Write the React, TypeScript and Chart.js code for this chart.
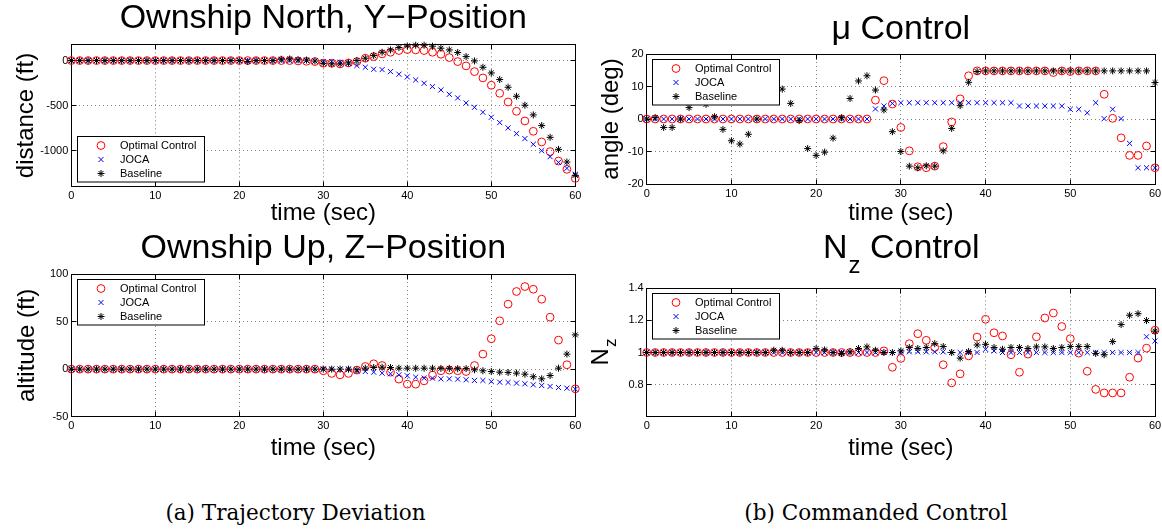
import React, { useEffect, useRef } from 'react';
import { Chart, registerables } from 'chart.js';
Chart.register(...registerables);

const FONT = '"Liberation Sans", Arial, Helvetica, sans-serif';

const TIME = [0, 1, 2, 3, 4, 5, 6, 7, 8, 9, 10, 11, 12, 13, 14, 15, 16, 17, 18, 19, 20, 21, 22, 23, 24, 25, 26, 27, 28, 29, 30, 31, 32, 33, 34, 35, 36, 37, 38, 39, 40, 41, 42, 43, 44, 45, 46, 47, 48, 49, 50, 51, 52, 53, 54, 55, 56, 57, 58, 59, 60];
const X_TICKS = [0, 10, 20, 30, 40, 50, 60];
const SERIES_LABELS = ['Optimal Control', 'JOCA', 'Baseline'];

// Ownship North, Y-Position (ft)
const NORTH_OPTIMAL = [
  0, 0, 0, 0, 0, 0, 0, 0, 0, 0,
  0, 0, 0, 0, 0, 0, 0, 0, 0, 0,
  0, 0, 0, 0, 0, 0, 0, -4, -8, -11,
  -30, -30, -37, -26, -11, 26, 44, 74, 92, 111,
  122, 118, 111, 92, 70, 33, -11, -59, -122, -192,
  -273, -362, -458, -561, -668, -782, -900, -1007, -1111, -1203,
  -1303];
const NORTH_JOCA = [
  0, 0, 0, 0, 0, 0, 0, 0, 0, 0,
  0, 0, 0, 0, 0, 0, 0, 0, 0, 0,
  0, 0, 0, 0, 0, 0, 0, 0, 0, -5,
  -11, -11, -18, -30, -55, -74, -96, -100, -122, -151,
  -181, -214, -251, -288, -325, -373, -413, -469, -517, -572,
  -627, -686, -745, -808, -863, -926, -996, -1063, -1126, -1192,
  -1258];
const NORTH_BASELINE = [
  0, 0, 0, 0, 0, 0, 0, 0, 0, 0,
  0, 0, 0, 0, 0, 0, 0, 0, 0, 0,
  0, -10, 0, 0, 0, 15, 18, 8, 5, -5,
  -30, -37, -37, -26, 0, 26, 55, 92, 118, 144,
  162, 170, 170, 159, 137, 118, 89, 44, -4, -74,
  -137, -210, -295, -395, -494, -601, -719, -849, -982, -1122,
  -1269];
const NORTH_Y_TICKS = [-1000, -500, 0];

// mu Control (deg)
const MU_OPTIMAL = [
  0, 0, 0, 0, 0, 0, 0, 0, 0, 0,
  0, 0, 0, 0, 0, 0, 0, 0, 0, 0,
  0, 0, 0, 0, 0, 0, 0, 5.8, 11.8, 4.6,
  -2.6, -9.8, -14.7, -15, -14.5, -8.5, -0.9, 6.2, 13.3, 14.8,
  14.8, 14.8, 14.8, 14.8, 14.8, 14.8, 14.8, 14.8, 14.3, 14.8,
  14.6, 14.8, 14.8, 14.8, 7.6, 0.2, -5.8, -11.2, -11.2, -8.3,
  -15];
const MU_JOCA = [
  0, 0, 0, 0, 0, 0, 0, 0, 0, 0,
  0, 0, 0, 0, 0, 0, 0, 0, 0, 0,
  0, 0, 0, 0, 0, 0, 0, 3.1, 4.0, 4.8,
  5, 5, 5, 5, 5, 5, 5, 5, 5, 5,
  5, 5, 5, 5, 4, 4, 4, 4, 4, 4,
  3, 3, 1.9, 5, 0.1, 3, 0.1, -7.5, -15, -15,
  -15];
const MU_BASELINE = [
  0, 0.4, -2.6, -2.6, 0, 3.5, 7, 4.5, 0.7, -3.2,
  -6.7, -7.7, -4.7, 0, 6, 11, 9.2, 4.8, -0.5, -9.1,
  -11.2, -10.2, -5.9, 0.4, 6.3, 11.7, 13.3, 8.9, 2.8, -3.9,
  -10, -14.5, -15, -14.4, -14.5, -9.8, -2.9, 4.1, 11.3, 14.6,
  14.8, 14.8, 14.8, 14.8, 14.8, 14.8, 14.8, 14.8, 14.8, 14.8,
  14.8, 14.8, 14.8, 14.8, 14.8, 14.8, 14.8, 14.8, 14.8, 14.8,
  11.2];
const MU_Y_TICKS = [-20, -10, 0, 10, 20];

// Ownship Up, Z-Position (ft)
const UP_OPTIMAL = [
  0, 0, 0, 0, 0, 0, 0, 0, 0, 0,
  0, 0, 0, 0, 0, 0, 0, 0, 0, 0,
  0, 0, 0, 0, 0, 0, 0, 0, 0, 0,
  -1.7, -4.5, -6, -4.5, -1, 2.8, 5.6, 3.8, -3.2, -10.5,
  -15.8, -15.8, -12.3, -6.3, -1.7, -1, -1.7, -2.5, 3.8, 15.8,
  31.9, 50.8, 68.3, 81.6, 86.8, 84, 73.5, 54.6, 30.5, 4.6,
  -20.7];
const UP_JOCA = [
  0, 0, 0, 0, 0, 0, 0, 0, 0, 0,
  0, 0, 0, 0, 0, 0, 0, 0, 0, 0,
  0, 0, 0, 0, 0, 0, 0, 0, 0, 0,
  0, 0, 0, 0, -1.7, -2.5, -3.2, -4.2, -4.9, -6,
  -7, -8.4, -9.5, -9.5, -10.2, -10.2, -10.5, -11.2, -11.9, -11.9,
  -13, -13.7, -14, -14.7, -15.4, -16.5, -17.2, -18.2, -19.3, -20,
  -21];
const UP_BASELINE = [
  0, 0, 0, 0, 0, 0, 0, 0, 0, 0,
  0, 0, 0, 0, 0, 0, 0, 0, 0, 0,
  0, 0, 0, 0, 0, 0, 0, 0, 0, 0,
  0, 0, 0, 0, -0.7, 1, 1.7, 2, 1.7, 1,
  1, 1, 1, 1, 0.8, 0.8, 0.5, 0.5, -0.7, -1.7,
  -2.5, -3.2, -3.5, -4.2, -5.3, -8, -10.2, -6.7, 1, 15.8,
  36];
const UP_Y_TICKS = [-50, 0, 50, 100];

// Nz Control
const NZ_OPTIMAL = [
  1, 1, 1, 1, 1, 1, 1, 1, 1, 1,
  1, 1, 1, 1, 1, 1, 1, 1, 1, 1,
  1, 1, 1, 1, 1, 1, 1, 1, 1.01, 0.908,
  0.963, 1.055, 1.117, 1.076, 1.031, 0.924, 0.811, 0.867, 0.979, 1.096,
  1.207, 1.123, 1.103, 0.986, 0.877, 0.99, 1.098, 1.215, 1.246, 1.162,
  1.086, 0.996, 0.883, 0.77, 0.748, 0.748, 0.748, 0.846, 0.965, 1.027,
  1.139];
const NZ_JOCA = [
  1, 1, 1, 1, 1, 1, 1, 1, 1, 1,
  1, 1, 1, 1, 1, 1, 1, 1, 1, 1,
  1, 1, 1, 1, 1, 1, 1, 1, 1, 1,
  1, 1.004, 1.004, 1.004, 1.004, 1.004, 1, 1, 1, 1,
  1.02, 1.01, 1, 1, 1, 1, 1, 1, 1, 1,
  1, 1, 1, 1, 1, 1, 1, 1, 1, 1.098,
  1.072];
const NZ_BASELINE = [
  1, 1, 1, 1, 1, 1, 1, 1, 1, 1,
  1, 1, 1, 1, 1, 1.014, 1.014, 1, 1, 1,
  1.025, 1.016, 1, 0.994, 1.004, 1.025, 1.035, 1.014, 1, 1,
  1.01, 1.031, 1.025, 1.031, 1.055, 1.037, 1, 0.965, 1.006, 1.047,
  1.051, 1.031, 1.02, 1.031, 1.031, 1.025, 1.035, 1.035, 1.025, 1.031,
  1.037, 1.037, 1.037, 0.994, 0.986, 1.068, 1.174, 1.232, 1.242, 1.199,
  1.133];
const NZ_Y_TICKS = [0.8, 1, 1.2, 1.4];

const COLORS = ['#ff0000', '#0000ff', '#000000'];
const STYLES = ['circle', 'crossRot', 'star'];
const RADII = [3.9, 3.6, 3.5];

const al = (p: number) => Math.round(p - 0.5) + 0.5;

function drawMarker(ctx: CanvasRenderingContext2D, style: string, x: number, y: number, r: number, color: string) {
  ctx.save();
  ctx.strokeStyle = color;
  ctx.lineWidth = 1;
  ctx.beginPath();
  if (style === 'circle') {
    ctx.arc(x, y, r, 0, Math.PI * 2);
  } else {
    const d = r * Math.SQRT1_2;
    ctx.moveTo(x - d, y - d); ctx.lineTo(x + d, y + d);
    ctx.moveTo(x - d, y + d); ctx.lineTo(x + d, y - d);
    if (style === 'star') {
      ctx.moveTo(x - r, y); ctx.lineTo(x + r, y);
      ctx.moveTo(x, y - r); ctx.lineTo(x, y + r);
    }
  }
  ctx.stroke();
  ctx.restore();
}

const matlabPlugin = {
  id: 'matlabAxes',
  beforeDatasetsDraw(chart: any) {
    const { ctx, chartArea: a, scales } = chart;
    const L = al(a.left), R = al(a.right), T = al(a.top), B = al(a.bottom);
    ctx.save();
    ctx.strokeStyle = '#000';
    ctx.lineWidth = 1;
    ctx.strokeRect(L, T, R - L, B - T);
    ctx.beginPath();
    const tl = 5;
    scales.x.ticks.forEach((t: any) => {
      const px = al(scales.x.getPixelForValue(t.value));
      ctx.moveTo(px, B); ctx.lineTo(px, B - tl);
      ctx.moveTo(px, T); ctx.lineTo(px, T + tl);
    });
    scales.y.ticks.forEach((t: any) => {
      const py = al(scales.y.getPixelForValue(t.value));
      ctx.moveTo(L, py); ctx.lineTo(L + tl, py);
      ctx.moveTo(R, py); ctx.lineTo(R - tl, py);
    });
    ctx.stroke();
    ctx.restore();
  },
  afterDraw(chart: any, _args: any, opts: any) {
    const { ctx, chartArea: a } = chart;
    // legend
    const w = 127, h = 45.5;
    const x0 = al(a.left + 6);
    const y0 = opts.legendPos === 'bottom' ? al(a.bottom - 5 - h) : al(a.top + 5);
    ctx.save();
    ctx.fillStyle = '#fff';
    ctx.fillRect(x0, y0, w, h);
    ctx.strokeStyle = '#000';
    ctx.lineWidth = 1;
    ctx.strokeRect(x0, y0, w, h);
    const rows = [9, 23, 37];
    chart.data.datasets.forEach((ds: any, i: number) => {
      const cy = y0 + rows[i];
      drawMarker(ctx, STYLES[i], x0 + 23.5, cy, RADII[i], COLORS[i]);
      ctx.fillStyle = '#000';
      ctx.font = `11px ${FONT}`;
      ctx.textBaseline = 'middle';
      ctx.textAlign = 'left';
      ctx.fillText(ds.label, x0 + 42.5, cy);
    });
    // subscripted title
    if (opts.subTitle) {
      const st = opts.subTitle;
      ctx.fillStyle = '#000';
      ctx.textBaseline = 'alphabetic';
      ctx.textAlign = 'left';
      ctx.font = `34px ${FONT}`;
      const w1 = ctx.measureText(st.main).width;
      const w3 = ctx.measureText(st.rest).width;
      ctx.font = `24px ${FONT}`;
      const w2 = ctx.measureText(st.sub).width;
      const x = (a.left + a.right) / 2 - (w1 + w2 + w3) / 2;
      ctx.font = `34px ${FONT}`;
      ctx.fillText(st.main, x, st.baseline);
      ctx.font = `24px ${FONT}`;
      ctx.fillText(st.sub, x + w1 + 1, st.baseline + 15);
      ctx.font = `34px ${FONT}`;
      ctx.fillText(st.rest, x + w1 + w2 + 1, st.baseline);
    }
    if (opts.subYLabel) {
      const yl = opts.subYLabel;
      ctx.save();
      ctx.translate(yl.baseline, (a.top + a.bottom) / 2);
      ctx.rotate(-Math.PI / 2);
      ctx.fillStyle = '#000';
      ctx.textBaseline = 'alphabetic';
      ctx.textAlign = 'left';
      ctx.font = `24px ${FONT}`;
      const w1 = ctx.measureText(yl.main).width;
      ctx.font = `17px ${FONT}`;
      const w2 = ctx.measureText(yl.sub).width;
      const sx = -(w1 + w2) / 2;
      ctx.font = `24px ${FONT}`;
      ctx.fillText(yl.main, sx, 0);
      ctx.font = `17px ${FONT}`;
      ctx.fillText(yl.sub, sx + w1 + 1, 8);
      ctx.restore();
    }
    ctx.restore();
  },
};

type Panel = {
  box: { x: number; y: number; w: number; h: number };
  title: string | null;
  titlePad: { top: number; bottom: number };
  subTitle?: { main: string; sub: string; rest: string; baseline: number };
  yLabel: string | null;
  subYLabel?: { main: string; sub: string; baseline: number };
  yMin: number; yMax: number; yTicks: number[];
  opt: number[]; joca: number[]; base: number[];
  padding: { left: number; right: number; top: number; bottom: number };
  yW: number; xH: number; xTitlePad: number; yTitlePad: number;
  legendPos: 'top' | 'bottom';
};

function buildConfig(p: Panel): any {
  const series = [p.opt, p.joca, p.base];
  const datasets = series.map((vals, i) => ({
    label: SERIES_LABELS[i],
    data: TIME.map((t, k) => ({ x: t, y: vals[k] })),
    pointStyle: STYLES[i],
    pointRadius: RADII[i],
    pointHoverRadius: RADII[i],
    borderColor: COLORS[i],
    backgroundColor: 'rgba(0,0,0,0)',
    pointBorderWidth: 1,
    borderWidth: 1,
    showLine: false,
    clip: false,
    order: 3 - i,
  }));
  const gridOpts = { color: '#808080', lineWidth: 1, drawTicks: false };
  const borderOpts = { display: false, dash: [1, 3] };
  const tickFont = { family: FONT, size: 11 };
  return {
    type: 'scatter',
    data: { datasets },
    options: {
      responsive: false,
      animation: false,
      devicePixelRatio: 1,
      events: [],
      layout: { padding: p.padding, autoPadding: false },
      plugins: {
        legend: { display: false },
        tooltip: { enabled: false },
        title: p.title
          ? { display: true, text: p.title, color: '#000', fullSize: false,
              font: { family: FONT, size: 34, weight: 'normal', lineHeight: 1 }, padding: p.titlePad }
          : { display: false },
        matlabAxes: { legendPos: p.legendPos, subTitle: p.subTitle, subYLabel: p.subYLabel },
      },
      scales: {
        x: {
          type: 'linear', min: 0, max: 60,
          afterBuildTicks: (s: any) => { s.ticks = X_TICKS.map((v) => ({ value: v })); },
          afterFit: (s: any) => { s.height = p.xH; s.paddingLeft = 0; s.paddingRight = 0; },
          grid: gridOpts, border: borderOpts,
          ticks: { color: '#000', font: tickFont, padding: 3, maxRotation: 0, autoSkip: false, callback: (v: any) => String(v) },
          title: { display: true, text: 'time (sec)', color: '#000', font: { family: FONT, size: 24, lineHeight: 1 }, padding: { top: 0, bottom: p.xTitlePad } },
        },
        y: {
          type: 'linear', min: p.yMin, max: p.yMax,
          afterBuildTicks: (s: any) => { s.ticks = p.yTicks.map((v) => ({ value: v })); },
          afterFit: (s: any) => { s.width = p.yW; s.paddingTop = 0; s.paddingBottom = 0; },
          grid: gridOpts, border: borderOpts,
          ticks: { color: '#000', font: tickFont, padding: 3, autoSkip: false, callback: (v: any) => String(v) },
          title: p.yLabel
            ? { display: true, text: p.yLabel, color: '#000', font: { family: FONT, size: 24, lineHeight: 1 }, padding: { top: p.yTitlePad, bottom: 0 } }
            : { display: false },
        },
      },
    },
    plugins: [matlabPlugin],
  };
}

const PANELS: Panel[] = [
  {
    box: { x: 0, y: 0, w: 590, h: 230 },
    title: 'Ownship North, Y\u2212Position', titlePad: { top: 1.5, bottom: 8.8 },
    yLabel: 'distance (ft)', yMin: -1395, yMax: 180, yTicks: NORTH_Y_TICKS,
    opt: NORTH_OPTIMAL, joca: NORTH_JOCA, base: NORTH_BASELINE,
    padding: { left: 0, right: 14.7, top: 0, bottom: 0 },
    yW: 71.3, xH: 43.3, xTitlePad: 5, yTitlePad: 14, legendPos: 'bottom',
  },
  {
    box: { x: 590, y: 0, w: 572, h: 230 },
    title: '\u03bc Control', titlePad: { top: 13, bottom: 7 },
    yLabel: 'angle (deg)', yMin: -20, yMax: 20, yTicks: MU_Y_TICKS,
    opt: MU_OPTIMAL, joca: MU_JOCA, base: MU_BASELINE,
    padding: { left: 0, right: 7, top: 0, bottom: 0 },
    yW: 56.7, xH: 46, xTitlePad: 5, yTitlePad: 9, legendPos: 'top',
  },
  {
    box: { x: 0, y: 230, w: 590, h: 230 },
    title: 'Ownship Up, Z\u2212Position', titlePad: { top: 2, bottom: 8 },
    yLabel: 'altitude (ft)', yMin: -50, yMax: 100, yTicks: UP_Y_TICKS,
    opt: UP_OPTIMAL, joca: UP_JOCA, base: UP_BASELINE,
    padding: { left: 0, right: 14.7, top: 0, bottom: 0 },
    yW: 71.3, xH: 43.3, xTitlePad: 0, yTitlePad: 15, legendPos: 'top',
  },
  {
    box: { x: 590, y: 230, w: 572, h: 230 },
    title: null, titlePad: { top: 0, bottom: 0 },
    subTitle: { main: 'N', sub: 'z', rest: ' Control', baseline: 28.3 },
    yLabel: null, subYLabel: { main: 'N', sub: 'z', baseline: 18 },
    yMin: 0.6, yMax: 1.4, yTicks: NZ_Y_TICKS,
    opt: NZ_OPTIMAL, joca: NZ_JOCA, base: NZ_BASELINE,
    padding: { left: 0, right: 7, top: 58.3, bottom: 0 },
    yW: 56.7, xH: 43.3, xTitlePad: 0, yTitlePad: 0, legendPos: 'top',
  },
];

function PanelChart({ p }: { p: Panel }) {
  const ref = useRef<HTMLCanvasElement>(null);
  useEffect(() => {
    const chart = new Chart(ref.current as HTMLCanvasElement, buildConfig(p));
    return () => chart.destroy();
  }, []);
  return (
    <canvas
      ref={ref}
      width={p.box.w}
      height={p.box.h}
      style={{ position: 'absolute', left: p.box.x, top: p.box.y, width: p.box.w, height: p.box.h }}
    />
  );
}

const CAPTIONS = ['(a) Trajectory Deviation', '(b) Commanded Control'];
const CAPTION_CENTERS = [295.5, 876];

export default function App() {
  return (
    <div style={{ position: 'fixed', left: 0, top: 0, width: 1162, height: 531, background: '#fff', overflow: 'hidden' }}>
      {PANELS.map((p, i) => <PanelChart key={i} p={p} />)}
      {CAPTIONS.map((c, i) => (
        <div
          key={c}
          style={{
            position: 'absolute', left: CAPTION_CENTERS[i] - 200, width: 400, top: 500, height: 26,
            textAlign: 'center', fontFamily: '"DejaVu Serif", "Liberation Serif", serif', fontSize: 21.5,
            lineHeight: '26px', color: '#000',
          }}
        >
          {c}
        </div>
      ))}
    </div>
  );
}
